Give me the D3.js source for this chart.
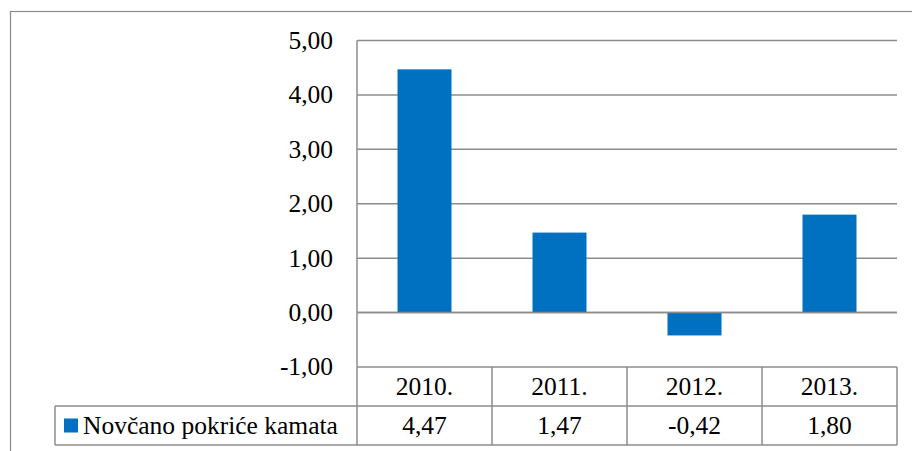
<!DOCTYPE html>
<html>
<head>
<meta charset="utf-8">
<script src="https://cdn.jsdelivr.net/npm/d3@7"></script>
</head>
<body style="margin:0;background:#fff">
<svg id="chart" width="912" height="451"></svg>
<script>
// chart data
var years = ["2010.", "2011.", "2012.", "2013."];
var values = [4.47, 1.47, -0.42, 1.80];
var yTicks = [-1, 0, 1, 2, 3, 4, 5];
var seriesName = "Novčano pokriće kamata";

var svg = d3.select("#chart"),
    plot = {left: 357, right: 897, top: 40.5, bottom: 367},
    rowH = 39,
    legendLeft = 55,
    lineColor = "#8c8c8c",
    barColor = "#0070c0";

// comma decimal, plain hyphen minus
var fmt = function (v) { return d3.format(".2f")(v).replace(".", ",").replace("\u2212", "-"); };

var y = d3.scaleLinear().domain([-1, 5]).range([plot.bottom, plot.top]);
var x = d3.scaleBand().domain(years).range([plot.left, plot.right]).padding(0);
var barW = x.bandwidth() * 0.4;

function label(sel) {
    sel.attr("font-family", "Liberation Serif")
       .style("font-family", "'Liberation Serif', 'Times New Roman', serif", "important")
       .attr("font-size", 25.5)
       .attr("fill", "#000")
       .attr("dy", "0.33em");
}

// outer chart border
svg.append("rect")
    .attr("x", 10.5).attr("y", 11.5)
    .attr("width", 920).attr("height", 460)
    .attr("fill", "none").attr("stroke", lineColor).attr("stroke-width", 1.2);

// gridlines
svg.append("g")
    .selectAll("line")
    .data(yTicks)
    .enter().append("line")
    .attr("x1", plot.left).attr("x2", plot.right)
    .attr("y1", function (d) { return y(d); })
    .attr("y2", function (d) { return y(d); })
    .attr("stroke", lineColor).attr("stroke-width", 1.5);

// y axis labels
svg.append("g")
    .selectAll("text")
    .data(yTicks)
    .enter().append("text")
    .attr("x", 333)
    .attr("y", function (d) { return y(d); })
    .attr("text-anchor", "end")
    .call(label)
    .text(fmt);

// bars
svg.append("g")
    .selectAll("rect")
    .data(values)
    .enter().append("rect")
    .attr("x", function (d, i) { return x(years[i]) + (x.bandwidth() - barW) / 2; })
    .attr("width", barW)
    .attr("y", function (d) { return y(Math.max(0, d)); })
    .attr("height", function (d) { return Math.abs(y(d) - y(0)); })
    .attr("fill", barColor);

// redraw zero line over bars
svg.append("line")
    .attr("x1", plot.left).attr("x2", plot.right)
    .attr("y1", y(0)).attr("y2", y(0))
    .attr("stroke", lineColor).attr("stroke-width", 1.5);

// vertical axis
svg.append("line")
    .attr("x1", plot.left).attr("x2", plot.left)
    .attr("y1", plot.top).attr("y2", plot.bottom + 2 * rowH)
    .attr("stroke", lineColor).attr("stroke-width", 1.5);

// data table
var table = svg.append("g");
table.selectAll("line.col")
    .data(years.map(function (d) { return x(d) + x.bandwidth(); }))
    .enter().append("line")
    .attr("x1", function (d) { return d; }).attr("x2", function (d) { return d; })
    .attr("y1", plot.bottom).attr("y2", plot.bottom + 2 * rowH)
    .attr("stroke", lineColor).attr("stroke-width", 1.5);
[1, 2].forEach(function (r) {
    table.append("line")
        .attr("x1", legendLeft).attr("x2", plot.right)
        .attr("y1", plot.bottom + r * rowH).attr("y2", plot.bottom + r * rowH)
        .attr("stroke", lineColor).attr("stroke-width", 1.5);
});
table.append("line")
    .attr("x1", legendLeft).attr("x2", legendLeft)
    .attr("y1", plot.bottom + rowH).attr("y2", plot.bottom + 2 * rowH)
    .attr("stroke", lineColor).attr("stroke-width", 1.5);

table.selectAll("text.year")
    .data(years)
    .enter().append("text")
    .attr("x", function (d) { return x(d) + x.bandwidth() / 2; })
    .attr("y", plot.bottom + rowH / 2)
    .attr("text-anchor", "middle")
    .call(label)
    .text(function (d) { return d; });

table.selectAll("text.val")
    .data(values)
    .enter().append("text")
    .attr("x", function (d, i) { return x(years[i]) + x.bandwidth() / 2; })
    .attr("y", plot.bottom + rowH * 1.5)
    .attr("text-anchor", "middle")
    .call(label)
    .text(fmt);

// legend key
table.append("rect")
    .attr("x", 64).attr("y", plot.bottom + rowH * 1.5 - 7)
    .attr("width", 14).attr("height", 14)
    .attr("fill", barColor);
table.append("text")
    .attr("x", 83)
    .attr("y", plot.bottom + rowH * 1.5)
    .call(label)
    .text(seriesName);
</script>
</body>
</html>
